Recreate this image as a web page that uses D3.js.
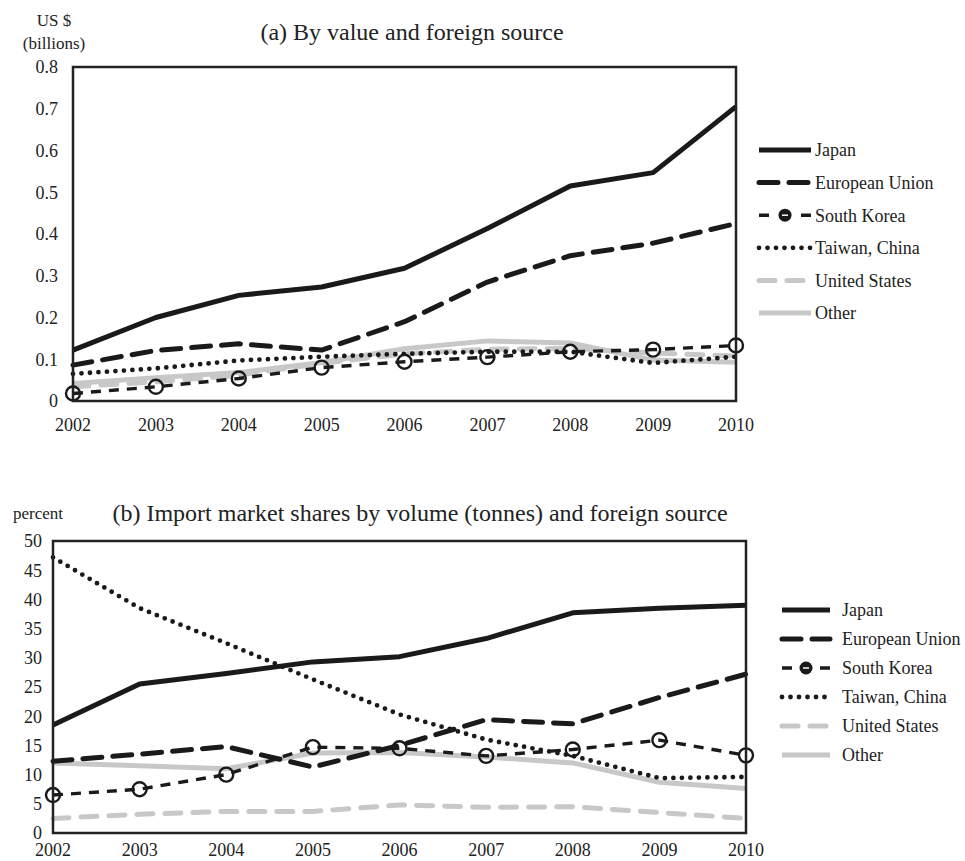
<!DOCTYPE html>
<html>
<head>
<meta charset="utf-8">
<script src="https://cdn.jsdelivr.net/npm/d3@7"></script>
<style>
  body { margin: 0; background: #fff; }
  text { font-family: "Liberation Serif", "Times New Roman", serif; fill: #222; }
</style>
</head>
<body>
<script>
// years shared by both panels
var years = [2002, 2003, 2004, 2005, 2006, 2007, 2008, 2009, 2010];
var seriesNames = ["Japan", "European Union", "South Korea", "Taiwan, China", "United States", "Other"];

// (a) value, US$ billions
var valJapan  = [0.122, 0.200, 0.253, 0.273, 0.318, 0.413, 0.515, 0.547, 0.705];
var valEU     = [0.086, 0.121, 0.137, 0.122, 0.190, 0.285, 0.348, 0.378, 0.425];
var valKorea  = [0.018, 0.034, 0.054, 0.080, 0.094, 0.105, 0.118, 0.123, 0.133];
var valTaiwan = [0.065, 0.078, 0.097, 0.106, 0.113, 0.118, 0.118, 0.091, 0.106];
var valUS     = [0.034, 0.046, 0.062, 0.090, 0.113, 0.124, 0.126, 0.115, 0.108];
var valOther  = [0.042, 0.056, 0.068, 0.092, 0.125, 0.144, 0.139, 0.098, 0.093];
var valTicks  = [0, 0.1, 0.2, 0.3, 0.4, 0.5, 0.6, 0.7, 0.8];

// (b) share by volume, percent
var shrJapan  = [18.5, 25.5, 27.3, 29.3, 30.2, 33.3, 37.7, 38.5, 39.0];
var shrEU     = [12.3, 13.5, 14.8, 11.3, 15.0, 19.4, 18.7, 23.2, 27.2];
var shrKorea  = [6.5, 7.5, 10.0, 14.7, 14.5, 13.2, 14.3, 15.9, 13.3];
var shrTaiwan = [47.2, 38.5, 32.5, 26.3, 20.3, 16.0, 13.2, 9.4, 9.6];
var shrUS     = [2.5, 3.2, 3.7, 3.7, 4.8, 4.4, 4.5, 3.5, 2.5];
var shrOther  = [12.0, 11.5, 11.0, 13.7, 13.8, 13.0, 12.0, 8.7, 7.6];
var shrTicks  = [0, 5, 10, 15, 20, 25, 30, 35, 40, 45, 50];

var styles = [
  {stroke: "#1a1a1a", width: 5, dash: null, cap: "butt"},
  {stroke: "#1a1a1a", width: 5, dash: "19,11", cap: "round"},
  {stroke: "#1a1a1a", width: 3.4, dash: "10,8", cap: "butt", marker: true},
  {stroke: "#1a1a1a", width: 4.8, dash: "0,8.5", cap: "round"},
  {stroke: "#c8c8c8", width: 5, dash: "16,12", cap: "round"},
  {stroke: "#c8c8c8", width: 5, dash: null, cap: "butt"}
];

var svg = d3.select("body").append("svg")
  .attr("width", 965).attr("height", 861);

function panel(cfg) {
  var x = d3.scaleLinear().domain([2002, 2010]).range([cfg.x0, cfg.x1]);
  var y = d3.scaleLinear().domain([0, cfg.max]).range([cfg.y1, cfg.y0]);
  var g = svg.append("g");

  // y labels
  g.selectAll(".yt").data(cfg.ticks).enter().append("text")
    .attr("x", cfg.x0 - cfg.tickGap).attr("y", function(d){ return y(d); })
    .attr("dy", "0.35em").attr("text-anchor", "end")
    .style("font-size", "18px")
    .text(cfg.fmt);

  // x labels
  g.selectAll(".xt").data(years).enter().append("text")
    .attr("x", function(d){ return x(d); }).attr("y", cfg.y1 + cfg.yearGap)
    .attr("dy", "0.35em").attr("text-anchor", "middle")
    .style("font-size", "18px")
    .text(function(d){ return d; });

  var line = d3.line()
    .x(function(d, i){ return x(years[i]); })
    .y(function(d){ return y(d); });

  // draw back to front: grey first
  var order = [5, 4, 3, 2, 1, 0];
  order.forEach(function(k) {
    var s = styles[k];
    g.append("path").datum(cfg.series[k])
      .attr("d", line).attr("fill", "none")
      .attr("stroke", s.stroke).attr("stroke-width", s.width)
      .attr("stroke-dasharray", s.dash)
      .attr("stroke-linecap", s.cap)
      .attr("stroke-linejoin", "round");
    if (s.marker) {
      g.selectAll(null).data(cfg.series[k]).enter().append("circle")
        .attr("cx", function(d, i){ return x(years[i]); })
        .attr("cy", function(d){ return y(d); })
        .attr("r", 7).attr("fill", "none")
        .attr("stroke", "#1a1a1a").attr("stroke-width", 2.4);
    }
  });

  // frame
  g.append("rect")
    .attr("x", cfg.x0).attr("y", cfg.y0)
    .attr("width", cfg.x1 - cfg.x0).attr("height", cfg.y1 - cfg.y0)
    .attr("fill", "none").attr("stroke", "#222").attr("stroke-width", 2.5);

  // legend
  var lg = g.append("g");
  seriesNames.forEach(function(name, k) {
    var s = styles[k];
    var ly = cfg.legY + k * cfg.legStep;
    lg.append("line")
      .attr("x1", cfg.legX).attr("x2", cfg.legX + cfg.legLen)
      .attr("y1", ly).attr("y2", ly)
      .attr("stroke", s.stroke).attr("stroke-width", s.width)
      .attr("stroke-dasharray", s.marker ? "10," + (cfg.legLen - 20) + ",10" : s.dash)
      .attr("stroke-linecap", s.cap);
    if (s.marker) {
      lg.append("circle").attr("cx", cfg.legX + cfg.legLen / 2).attr("cy", ly)
        .attr("r", 6.5).attr("fill", "#1a1a1a");
      lg.append("line")
        .attr("x1", cfg.legX + cfg.legLen / 2 - 3).attr("x2", cfg.legX + cfg.legLen / 2 + 3)
        .attr("y1", ly).attr("y2", ly)
        .attr("stroke", "#fff").attr("stroke-width", 1.5);
    }
    lg.append("text")
      .attr("x", cfg.legX + cfg.legLen + cfg.legText).attr("y", ly)
      .attr("dy", "0.35em").style("font-size", "18px")
      .text(name);
  });
}

// (a)
svg.append("text").attr("x", 412).attr("y", 32).attr("dy", "0.35em")
  .attr("text-anchor", "middle").style("font-size", "24px")
  .text("(a) By value and foreign source");
svg.append("text").attr("x", 54).attr("y", 20).attr("dy", "0.35em")
  .attr("text-anchor", "middle").style("font-size", "17px").text("US $");
svg.append("text").attr("x", 54).attr("y", 43).attr("dy", "0.35em")
  .attr("text-anchor", "middle").style("font-size", "17px").text("(billions)");

panel({
  x0: 73, x1: 736, y0: 67, y1: 401, max: 0.8,
  ticks: valTicks, fmt: function(d){ return d === 0 ? "0" : d3.format(".1f")(d); },
  tickGap: 15, yearGap: 24,
  series: [valJapan, valEU, valKorea, valTaiwan, valUS, valOther],
  legX: 759, legLen: 52, legText: 4, legY: 150, legStep: 32.6
});

// (b)
svg.append("text").attr("x", 420).attr("y", 513).attr("dy", "0.35em")
  .attr("text-anchor", "middle").style("font-size", "24px")
  .text("(b) Import market shares by volume (tonnes) and foreign source");
svg.append("text").attr("x", 38).attr("y", 513).attr("dy", "0.35em")
  .attr("text-anchor", "middle").style("font-size", "17px").text("percent");

panel({
  x0: 53, x1: 746, y0: 541, y1: 833, max: 50,
  ticks: shrTicks, fmt: function(d){ return d; },
  tickGap: 11, yearGap: 17,
  series: [shrJapan, shrEU, shrKorea, shrTaiwan, shrUS, shrOther],
  legX: 782, legLen: 48, legText: 12, legY: 610, legStep: 29
});
</script>
</body>
</html>
